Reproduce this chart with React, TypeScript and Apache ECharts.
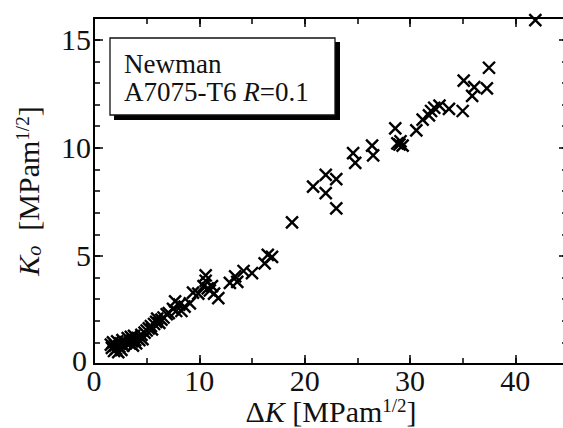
import React, { useEffect, useRef } from 'react';
import * as echarts from 'echarts';

// ΔK [MPa m^1/2]
const deltaK = [
  1.6, 1.7, 1.8, 1.9, 2.0, 2.1, 2.2, 2.3, 2.4, 2.5, 2.6, 2.7, 2.8, 3.0, 3.2,
  3.4, 3.5, 3.6, 3.7, 3.8, 3.9, 4.0, 4.1, 4.3, 4.5, 4.6,
  4.8, 5.0, 5.2, 5.4, 5.5, 5.7, 5.9, 6.0, 6.2, 6.4, 6.6, 6.9, 7.1,
  7.5, 7.7, 7.8, 8.1, 8.3, 8.6, 9.1, 9.4, 9.9,
  10.4, 10.6, 10.6, 10.8, 11.0, 11.2, 11.4, 11.8,
  12.9, 13.4, 13.6, 14.2, 15.0, 16.2, 16.5, 16.9,
  18.8, 20.8, 22.0, 22.0, 23.0, 23.0,
  24.6, 24.8, 26.4, 26.5, 28.6, 28.8, 29.0, 29.1, 29.3,
  30.6, 31.2, 31.8, 32.0, 32.3, 32.8, 33.7, 35.0, 35.1, 35.9, 36.1, 37.3, 37.5,
  41.9,
];
// K_o [MPa m^1/2]
const kOpen = [
  0.9, 0.75, 1.0, 0.6, 0.85, 0.7, 1.05, 0.55, 0.8, 0.95, 0.65, 1.1, 0.85, 1.0, 1.2,
  0.95, 1.25, 1.05, 0.85, 1.3, 1.1, 0.95, 1.2, 1.1, 1.35, 1.15,
  1.45, 1.55, 1.65, 1.75, 1.6, 1.85, 1.95, 2.1, 1.9, 2.05, 2.15, 2.3, 2.35,
  2.55, 2.9, 2.45, 2.75, 2.45, 2.65, 2.8, 3.3, 3.25,
  3.6, 3.85, 4.1, 3.5, 3.4, 3.6, 3.25, 3.05,
  3.75, 4.05, 3.8, 4.3, 4.2, 4.65, 5.05, 4.95,
  6.55, 8.2, 8.75, 7.9, 8.55, 7.2,
  9.75, 9.3, 10.1, 9.65, 10.9, 10.2, 10.15, 10.3, 10.1,
  10.8, 11.3, 11.5, 11.7, 11.85, 11.95, 11.8, 11.7, 13.1, 12.4, 12.8, 12.75, 13.7,
  15.9,
];

const xLabelValues = [0, 10, 20, 30, 40];
const yLabelValues = [0, 5, 10, 15];
const xTitle = '{d|Δ}{i|K} [MPam{s|1/2}]';
const yTitle = '{i|K}{sub|o}  [MPam{s|1/2}]';
const noteLines = ['Newman', 'A7075-T6 {i|R}=0.1'];

const FONT = '"Liberation Serif", "Times New Roman", serif';
const INK = '#111';
const LABEL_SIZE = 30;

const richTitle = {
  d: { fontFamily: FONT, fontSize: LABEL_SIZE, color: INK },
  i: { fontFamily: FONT, fontSize: LABEL_SIZE, color: INK, fontStyle: 'italic' },
  s: { fontFamily: FONT, fontSize: 19, color: INK, verticalAlign: 'top', padding: [0, 0, 12, 0] },
  sub: { fontFamily: FONT, fontSize: 20, color: INK, fontStyle: 'italic', padding: [10, 0, 0, 0] },
};

const App: React.FC = () => {
  const ref = useRef<HTMLDivElement>(null);
  useEffect(() => {
    if (!ref.current) return;
    const chart = echarts.init(ref.current, undefined, { renderer: 'svg' });
    const data = deltaK.map((x, i) => [x, kOpen[i]]);
    const lineStyle = { color: '#000', width: 2 };
    const tickStyle = { color: '#000', width: 1.5 };
    const mkX = (position: string, interval: number, len: number, main: boolean) => ({
      type: 'value',
      position,
      min: 0,
      max: 45,
      interval,
      axisLine: { show: main, onZero: false, lineStyle },
      axisTick: { show: true, inside: true, length: len, lineStyle: tickStyle },
      splitLine: { show: false },
      axisLabel: { show: false },
    });
    const mkY = (position: string, interval: number, len: number, main: boolean) => ({
      type: 'value',
      position,
      min: 0,
      max: 16,
      interval,
      axisLine: { show: main, onZero: false, lineStyle },
      axisTick: { show: true, inside: true, length: len, lineStyle: tickStyle },
      splitLine: { show: false },
      axisLabel: { show: false },
    });
    const xMain: any = mkX('bottom', 5, 6, true);
    xMain.axisLabel = {
      show: true,
      margin: 1,
      fontFamily: FONT,
      fontSize: LABEL_SIZE,
      color: INK,
      formatter: (v: number) => (xLabelValues.includes(v) ? String(v) : ''),
    };
    xMain.name = xTitle;
    xMain.nameLocation = 'middle';
    xMain.nameGap = 32;
    xMain.nameMoveOverlap = false;
    xMain.nameTextStyle = { fontFamily: FONT, fontSize: LABEL_SIZE, color: INK, rich: richTitle };
    const yMain: any = mkY('left', 1, 6, true);
    yMain.axisLabel = {
      show: true,
      margin: 3,
      fontFamily: FONT,
      fontSize: LABEL_SIZE,
      color: INK,
      formatter: (v: number) =>
        v === 0 ? '{z|0}' : yLabelValues.includes(v) ? String(v) : '',
      rich: { z: { fontFamily: FONT, fontSize: LABEL_SIZE, color: INK, padding: [0, 4, 8, 0] } },
    };
    yMain.name = yTitle;
    yMain.nameLocation = 'middle';
    yMain.nameGap = 50;
    yMain.nameMoveOverlap = false;
    yMain.nameTextStyle = { fontFamily: FONT, fontSize: LABEL_SIZE, color: INK, rich: richTitle };

    chart.setOption({
      animation: false,
      grid: { left: 94, top: 18, right: -5, bottom: 64, containLabel: false, outerBoundsMode: 'none' },
      xAxis: [xMain, mkX('bottom', 10, 9, false), mkX('top', 5, 6, true), mkX('top', 10, 9, false)],
      yAxis: [yMain, mkY('left', 5, 9, false), mkY('right', 1, 6, true), mkY('right', 5, 9, false)],
      series: [
        {
          type: 'scatter',
          xAxisIndex: 0,
          yAxisIndex: 0,
          data,
          clip: false,
          symbol: 'path://M0,0L10,10M10,0L0,10',
          symbolSize: 12,
          itemStyle: { color: '#000', borderColor: '#000', borderWidth: 2.4, opacity: 1 },
          z: 5,
        },
        {
          type: 'custom',
          coordinateSystem: 'none',
          silent: true,
          z: 50,
          data: [0],
          renderItem: () => ({
            type: 'group',
            children: [
              {
                type: 'rect',
                shape: { x: 114, y: 42, width: 226, height: 78 },
                style: { fill: '#000' },
              },
              {
                type: 'rect',
                shape: { x: 110, y: 38, width: 225, height: 77 },
                style: { fill: '#fff', stroke: '#111', lineWidth: 1.3 },
              },
            ],
          }),
        },
      ],
      graphic: [
        {
          type: 'text',
          z: 101,
          x: 124,
          y: 64,
          style: { text: noteLines[0], font: `27px ${FONT}`, fill: INK, verticalAlign: 'middle' },
        },
        {
          type: 'text',
          z: 101,
          x: 124,
          y: 92,
          style: {
            text: noteLines[1],
            font: `27px ${FONT}`,
            fill: INK,
            verticalAlign: 'middle',
            rich: { i: { fontFamily: FONT, fontSize: 27, fontStyle: 'italic', fill: INK } },
          },
        },
      ],
    });
    return () => chart.dispose();
  }, []);
  return <div ref={ref} style={{ width: 563, height: 428, position: 'absolute', left: 0, top: 0 }} />;
};

export default App;
